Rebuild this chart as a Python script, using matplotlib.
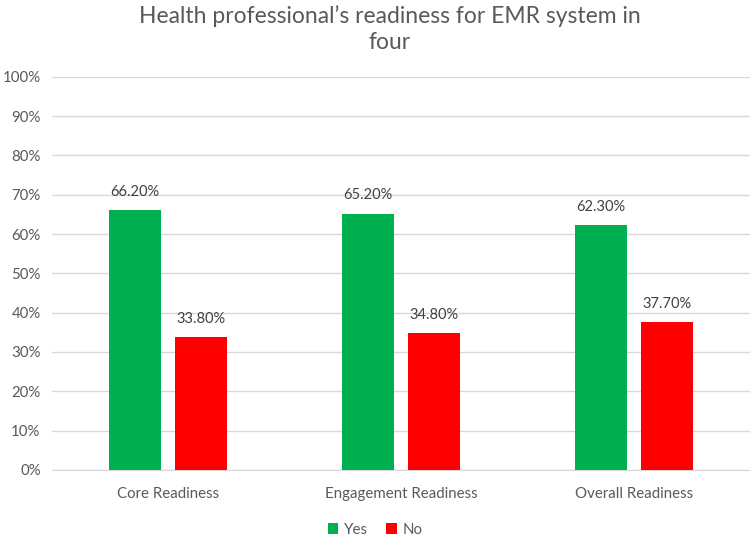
import matplotlib
matplotlib.use("Agg")
import matplotlib.pyplot as plt
import numpy as np
from matplotlib.ticker import PercentFormatter

categories = ["Core Readiness", "Engagement Readiness", "Overall Readiness"]
yes_vals = [66.2, 65.2, 62.3]
no_vals = [33.8, 34.8, 37.7]
series_names = ["Yes", "No"]
title = "Health professional\u2019s readiness for EMR system in\nfour"

plt.rcParams['font.family'] = ['Lato', 'DejaVu Sans']
txt = '#595959'
green = '#00B050'
red = '#FF0000'

fig = plt.figure(figsize=(7.5, 5.37), dpi=100)
ax = fig.add_axes([0.069, 0.125, 0.931, 0.732])

x = np.arange(len(categories))
w = 0.223
off = 0.142
b1 = ax.bar(x - off, yes_vals, w, color=green, label=series_names[0], zorder=3)
b2 = ax.bar(x + off, no_vals, w, color=red, label=series_names[1], zorder=3)

for bars, vals in ((b1, yes_vals), (b2, no_vals)):
    for r, v in zip(bars, vals):
        ax.annotate(f"{v:.2f}%", (r.get_x() + r.get_width() / 2, v),
                    xytext=(0, 8), textcoords='offset points',
                    ha='center', va='bottom', fontsize=10.5, color='#404040')

ax.set_xlim(-0.5, len(categories) - 0.5)
ax.set_ylim(0, 100)
ax.set_yticks(np.arange(0, 101, 10))
ax.yaxis.set_major_formatter(PercentFormatter(decimals=0))
ax.set_xticks(x)
ax.set_xticklabels(categories)
ax.grid(axis='y', color='#D9D9D9', linewidth=1, zorder=0)
for s in ['top', 'right', 'left']:
    ax.spines[s].set_visible(False)
ax.spines['bottom'].set_color('#D9D9D9')
ax.tick_params(axis='both', length=0, labelsize=10.8, colors=txt)
ax.tick_params(axis='x', pad=12)
ax.tick_params(axis='y', pad=8)

fig.text(0.52, 0.99, title, ha='center', va='top', fontsize=16.5, color=txt,
         linespacing=1.3)

fig.legend(handles=[b1, b2], labels=series_names, loc='lower center',
           bbox_to_anchor=(0.5, -0.025), ncol=2, frameon=False, fontsize=10.8,
           handlelength=0.7, handleheight=0.7, handletextpad=0.4,
           columnspacing=1.2, labelcolor=txt)

fig.savefig("out.png", dpi=100)
